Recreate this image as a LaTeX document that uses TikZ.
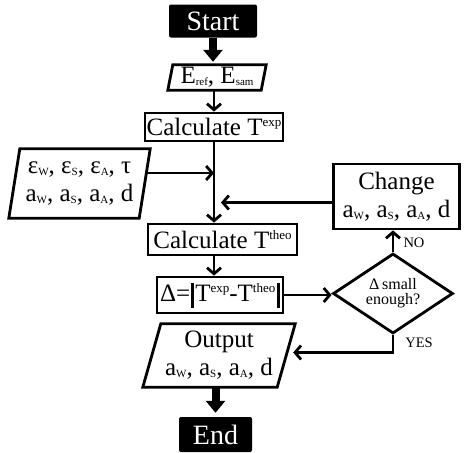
\documentclass[tikz,border=0pt]{standalone}
\usepackage{fontspec}
\setmainfont{Liberation Serif}
\usetikzlibrary{arrows.meta,shapes.geometric}
\newcommand{\sbs}[1]{\raisebox{-2pt}{\fontsize{11}{11}\selectfont #1}}
\newcommand{\sps}[1]{\raisebox{9pt}{\fontsize{13}{13}\selectfont #1}}
\newcommand{\absbar}{\rule[-6pt]{2.6pt}{25pt}}
\newcommand{\pgram}[2]{\draw[ln] ([xshift=#2]#1.north west) -- (#1.north east) -- ([xshift=-#2]#1.south east) -- (#1.south west) -- cycle;}
\begin{document}
\begin{tikzpicture}[x=1pt,y=-1pt,
 box/.style={draw,line width=2.8pt,rectangle,inner sep=0pt,font=\fontsize{25}{28}\selectfont,align=center},
 term/.style={fill=black,rounded corners=2pt,text=white,inner sep=0pt,font=\fontsize{28}{28}\selectfont},
 txt/.style={inner sep=0pt,font=\fontsize{25}{28}\selectfont,align=center},
 lbl/.style={inner sep=0pt,font=\fontsize{14.5}{15}\selectfont},
 ln/.style={line width=2.8pt,line join=miter},
 arr/.style={line width=2.8pt,-{Straight Barb[length=6pt,width=14pt]}},
 fat/.style={line width=8pt,-{Triangle[length=12pt,width=19pt]}},
]
\useasboundingbox (0,0) rectangle (464,453);
\node[term,minimum width=88pt,minimum height=33pt] (start) at (213,21) {Start};
\node[txt,minimum width=98pt,minimum height=25pt] (e) at (217,77.5) {E\sbs{ref}, E\sbs{sam}};
\pgram{e}{5pt}
\node[box,minimum width=138pt,minimum height=28pt] (ce) at (214,127) {Calculate T\sps{exp}};
\node[txt,minimum width=141pt,minimum height=69pt] (p) at (79.5,183.5) {ε\sbs{W}, ε\sbs{S}, ε\sbs{A}, τ\\a\sbs{W}, a\sbs{S}, a\sbs{A}, d};
\pgram{p}{11pt}
\node[box,minimum width=149pt,minimum height=31pt] (ct) at (222.5,239.5) {Calculate T\sps{theo}};
\node[box,minimum width=126pt,minimum height=65pt] (ch) at (396.5,196.5) {Change\\a\sbs{W}, a\sbs{S}, a\sbs{A}, d};
\node[box,minimum width=126pt,minimum height=36pt] (d) at (220,295) {Δ=\hspace{1pt}\absbar\hspace{1.5pt}T\sps{exp}-T\sps{theo}\hspace{2pt}\absbar};
\node[diamond,draw,line width=2.8pt,inner sep=0pt,aspect=1.5,minimum width=120pt,minimum height=80pt,align=center,font=\fontsize{16}{15}\selectfont] (dia) at (393,293.5) {Δ\,small\\enough?};
\node[txt,minimum width=152pt,minimum height=63pt] (o) at (219,355.5) {Output\\a\sbs{W}, a\sbs{S}, a\sbs{A}, d};
\pgram{o}{18pt}
\node[term,minimum width=73pt,minimum height=35pt] (end) at (215.5,434.5) {End};
\coordinate (pa) at (146,173);
\draw[fat] (start.south) -- ([yshift=3pt]start.south |- e.north);
\draw[arr] (e.south -| ce.north) -- (ce.north);
\draw[arr] (ce.south) -- (ce.south |- ct.north);
\draw[arr] (pa) -- (pa -| ce.south);
\draw[arr] ([yshift=-6pt]ch.west) -- ([yshift=-6pt,xshift=7pt]ch.west -| ce.south);
\draw[arr] (ce.south |- ct.south) -- (ce.south |- d.north);
\draw[arr] (d.east) -- (d.east -| dia.west);
\draw[arr] (dia.north) -- (dia.north |- ch.south);
\node[lbl] (no) at (414,243) {NO};
\draw[arr] (dia.south) |- ([xshift=-2pt,yshift=3pt]o.east);
\node[lbl] (yes) at (419,343) {YES};
\draw[fat] (o.south -| end.north) -- ([yshift=4pt]end.north);
\end{tikzpicture}
\end{document}
